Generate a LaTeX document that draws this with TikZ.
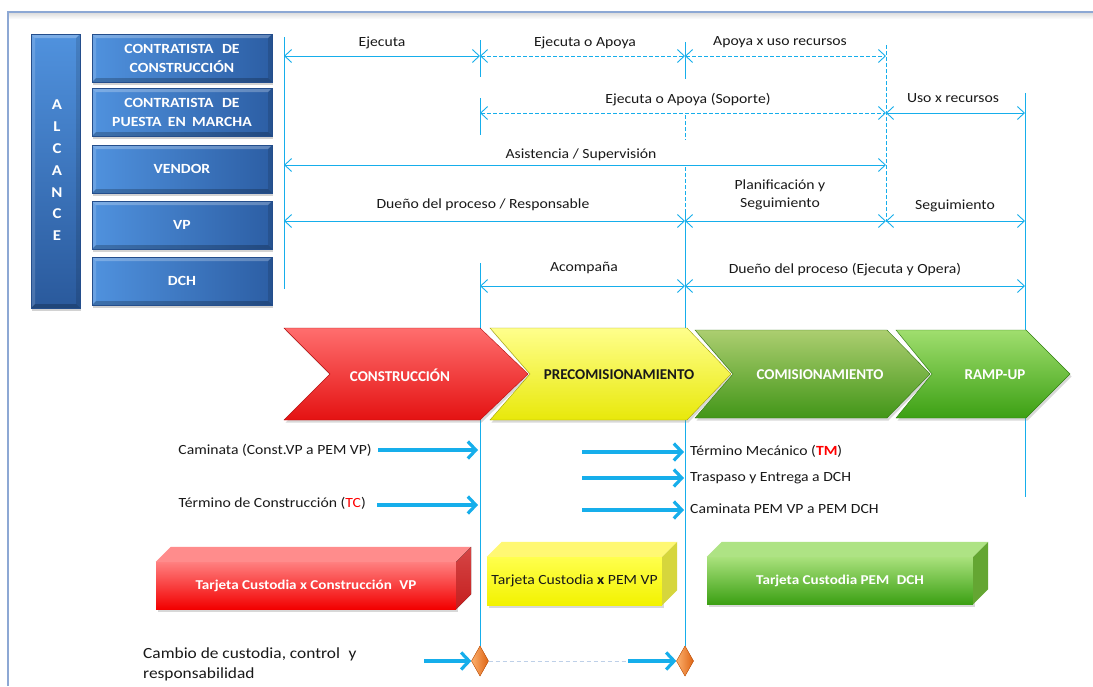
\documentclass[tikz,border=0pt]{standalone}
\usepackage{fontspec}
\setmainfont{Carlito}[FakeStretch=1.12]
\newfontfamily\chevfont{Carlito}
\usetikzlibrary{arrows.meta,shapes.geometric,shadows,calc}
\definecolor{lineblue}{RGB}{22,174,235}
\definecolor{frameblue}{RGB}{141,168,212}
\definecolor{boxL}{RGB}{80,146,222}
\definecolor{boxR}{RGB}{44,94,164}
\definecolor{boxEdge}{RGB}{36,78,140}
\definecolor{txt}{RGB}{25,25,25}
\definecolor{redT}{RGB}{255,110,110}
\definecolor{redM}{RGB}{250,50,50}
\definecolor{redB}{RGB}{228,18,18}
\definecolor{yelT}{RGB}{255,255,140}
\definecolor{yelM}{RGB}{250,250,60}
\definecolor{yelB}{RGB}{232,232,10}
\definecolor{grnAT}{RGB}{172,206,112}
\definecolor{grnAM}{RGB}{110,176,50}
\definecolor{grnAB}{RGB}{66,150,24}
\definecolor{grnBT}{RGB}{160,222,110}
\definecolor{grnBM}{RGB}{100,190,50}
\definecolor{grnBB}{RGB}{60,160,20}
\definecolor{orgT}{RGB}{252,176,110}
\definecolor{orgB}{RGB}{222,100,20}
\definecolor{dashgray}{RGB}{190,208,232}
\definecolor{redSideT}{RGB}{214,70,70}
\definecolor{redSideB}{RGB}{196,30,30}
\definecolor{yelSide}{RGB}{214,214,60}
\definecolor{grnSide}{RGB}{100,166,50}
\tikzset{
  bevel/.style={path picture={
    \fill[white,opacity=0.25] (path picture bounding box.north west) -- (path picture bounding box.north east)
      -- ([xshift=-#1,yshift=-#1]path picture bounding box.north east) -- ([xshift=#1,yshift=-#1]path picture bounding box.north west) -- cycle;
    \fill[white,opacity=0.15] (path picture bounding box.north west) -- ([xshift=#1,yshift=-#1]path picture bounding box.north west)
      -- ([xshift=#1,yshift=#1]path picture bounding box.south west) -- (path picture bounding box.south west) -- cycle;
    \fill[black,opacity=0.22] (path picture bounding box.south west) -- (path picture bounding box.south east)
      -- ([xshift=-#1,yshift=#1]path picture bounding box.south east) -- ([xshift=#1,yshift=#1]path picture bounding box.south west) -- cycle;
    \fill[black,opacity=0.12] (path picture bounding box.north east) -- ([xshift=-#1,yshift=-#1]path picture bounding box.north east)
      -- ([xshift=-#1,yshift=#1]path picture bounding box.south east) -- (path picture bounding box.south east) -- cycle;
  }},
}
\begin{document}
\begin{tikzpicture}[x=1pt,y=-1pt,
  >={Straight Barb[length=7pt,width=13pt]},
  dim/.style={draw=lineblue,line width=0.9pt,<->},
  ddim/.style={dim,dash pattern=on 3.5pt off 2.5pt},
  vline/.style={draw=lineblue,line width=0.9pt},
  dvline/.style={vline,dash pattern=on 3.5pt off 2.5pt},
  lab/.style={text=txt,inner sep=0pt,font=\fontsize{14}{18}\selectfont,align=center},
  role/.style={minimum width=180pt,minimum height=48pt,inner sep=0pt,left color=boxL,right color=boxR,
    draw=boxEdge,line width=0.4pt,text=white,font=\bfseries\fontsize{14}{19}\selectfont,align=center,
    bevel=4pt,drop shadow={opacity=0.35,shadow xshift=1pt,shadow yshift=-2.5pt}},
  chev/.style={line width=0.4pt,drop shadow={opacity=0.3,shadow xshift=1.5pt,shadow yshift=-2.5pt}},
  chevtxt/.style={font=\chevfont\bfseries\fontsize{15}{18}\selectfont,inner sep=0pt},
  fat/.style={draw=lineblue,line width=3.2pt,-{Straight Barb[length=8pt,width=17pt]}},
  blab/.style={lab,anchor=west},
  card/.style={inner sep=0pt,font=\bfseries\fontsize{13.5}{16}\selectfont,
    drop shadow={opacity=0.3,shadow xshift=1.5pt,shadow yshift=-2.5pt}},
  dia/.style={diamond,minimum width=17pt,minimum height=30pt,inner sep=0pt,left color=orgT,right color=orgB,
    draw=orgB!85!black,line width=0.3pt},
]
\useasboundingbox (0,0) rectangle (1093,686);
\fill[white] (0,0) rectangle (1093,686);
% frame
\fill[top color=black!14,bottom color=white] (9,12.5) rectangle (1093,19);
\draw[frameblue,line width=1.3pt] (8,686) -- (8,12) -- (1093,12);

% left column
\node[role,minimum width=49pt,minimum height=274pt,top color=boxL,bottom color=boxR!95!black] (alc) at (55.5,171) {};
\node[text=white,font=\bfseries\fontsize{15}{21.8}\selectfont,align=center,inner sep=0pt] (alctxt) at (57,170.5) {A\\L\\C\\A\\N\\C\\E};

\node[role] (rcc) at (182,58) {CONTRATISTA\hspace{0.35em} DE\\CONSTRUCCIÓN};
\node[role] (rpm) at (182,112) {CONTRATISTA\hspace{0.35em} DE\\PUESTA\hspace{0.2em} EN\hspace{0.2em} MARCHA};
\node[role] (rvd) at (182,169) {VENDOR};
\node[role] (rvp) at (182,225) {VP};
\node[role] (rdc) at (182,281) {DCH};

% diamonds (for anchors)
\node[dia] (d1) at (480,661) {};
\node[dia] (d2) at (685,661) {};

% vertical lines
\coordinate (v0a) at (284,37);  \coordinate (v0b) at (284,289);
\draw[vline] (v0a) -- (v0b);
\coordinate (v1a) at (480,40);  \coordinate (v1b) at (480,77);
\coordinate (v1c) at (480,98);  \coordinate (v1d) at (480,135);
\coordinate (v1e) at (480,263);
\draw[vline] (v1a) -- (v1b);
\draw[vline] (v1c) -- (v1d);
\draw[vline] (v1e) -- (d1.north);
\coordinate (v2a) at (685,42);  \coordinate (v2b) at (685,79);
\coordinate (v2c) at (685,115); \coordinate (v2d) at (685,140);
\coordinate (v2e) at (685,167); \coordinate (v2f) at (685,212);
\draw[vline] (v2a) -- (v2b);
\draw[dvline] (v2c) -- (v2d);
\draw[dvline] (v2e) -- (v2f);
\draw[vline] (v2f) -- (d2.north);
\coordinate (v3a) at (886,45);  \coordinate (v3b) at (886,222);
\draw[dvline] (v3a) -- (v3b);
\coordinate (v4a) at (1025,93); \coordinate (v4b) at (1025,497);
\draw[vline] (v4a) -- (v4b);

% row 1
\coordinate (A1) at (284,56); \coordinate (B1) at (480,56); \coordinate (C1) at (685,56); \coordinate (D1) at (886,56);
\draw[dim] (A1) -- (B1);
\draw[ddim] (B1) -- (C1);
\draw[ddim] (C1) -- (D1);
\node[lab] (l11) at (382,43) {Ejecuta};
\node[lab] (l12) at (585,43) {Ejecuta o Apoya};
\node[lab] (l13) at (780,42) {Apoya x uso recursos};
% row 2
\coordinate (B2) at (480,113); \coordinate (D2) at (886,113); \coordinate (E2) at (1025,113);
\draw[ddim] (B2) -- (D2);
\draw[dim] (D2) -- (E2);
\node[lab] (l21) at (688,100) {Ejecuta o Apoya (Soporte)};
\node[lab] (l22) at (953,98) {Uso x recursos};
% row 3
\coordinate (A3) at (284,165); \coordinate (D3) at (886,165);
\draw[dim] (A3) -- (D3);
\node[lab] (l31) at (581,155) {Asistencia / Supervisión};
% row 4
\coordinate (A4) at (284,221); \coordinate (C4) at (685,221); \coordinate (D4) at (886,221); \coordinate (E4) at (1025,221);
\draw[dim] (A4) -- (C4);
\draw[dim] (C4) -- (D4);
\draw[dim] (D4) -- (E4);
\node[lab] (l41) at (483,205) {Dueño del proceso / Responsable};
\node[lab] (l42) at (780,194.5) {Planificación y\\Seguimiento};
\node[lab] (l43) at (955,206) {Seguimiento};
% row 5
\coordinate (B5) at (480,286); \coordinate (C5) at (685,286); \coordinate (E5) at (1025,286);
\draw[dim] (B5) -- (C5);
\draw[dim] (C5) -- (E5);
\node[lab] (l51) at (584,268) {Acompaña};
\node[lab] (l52) at (845,270) {Dueño del proceso (Ejecuta y Opera)};

% chevrons
\path[chev,draw=redB!80!black,top color=redT,middle color=redM,bottom color=redB]
  (284,328) -- (480,328) -- (528,374) -- (480,420) -- (284,420) -- (330,374) -- cycle;
\path[chev,draw=yelB!70!black,top color=yelT,middle color=yelM,bottom color=yelB]
  (490,328) -- (687,328) -- (731,374) -- (687,420) -- (490,420) -- (530,374) -- cycle;
\path[chev,draw=grnAB!80!black,top color=grnAT,middle color=grnAM,bottom color=grnAB]
  (695,330) -- (887,330) -- (930,374) -- (887,418) -- (695,418) -- (733,374) -- cycle;
\path[chev,draw=grnBB!80!black,top color=grnBT,middle color=grnBM,bottom color=grnBB]
  (896,330) -- (1026,330) -- (1070,374) -- (1026,418) -- (896,418) -- (932,374) -- cycle;
\node[chevtxt,text=white] (c1) at (400,375) {CONSTRUCCIÓN};
\node[chevtxt,text=txt] (c2) at (619,375) {PRECOMISIONAMIENTO};
\node[chevtxt,text=white] (c3) at (820,375) {COMISIONAMIENTO};
\node[chevtxt,text=white] (c4) at (995,375) {RAMP-UP};

% milestone arrows
\node[lab,anchor=east] (m1) at (372,450) {Caminata (Const.VP a PEM VP)};
\coordinate (m1e) at (478,450);
\draw[fat] ([xshift=6pt]m1.east) -- (m1e);
\node[lab,anchor=east] (m2) at (366,503) {Término de Construcción (\textcolor{red}{TC})};
\coordinate (m2s) at (377,505);
\coordinate (m2e) at (478,505);
\draw[fat] (m2s) -- (m2e);
\node[blab] (m3) at (690,451) {Término Mecánico (\textcolor{red}{\textbf{TM}})};
\coordinate (m3s) at (582,452);
\draw[fat] (m3s) -- ([xshift=-6pt]m3.west|-m3s);
\node[blab] (m4) at (690,478) {Traspaso y Entrega a DCH};
\coordinate (m4s) at (582,478);
\draw[fat] (m4s) -- ([xshift=-6pt]m4.west|-m4s);
\node[blab] (m5) at (690,509) {Caminata PEM VP a PEM DCH};
\coordinate (m5s) at (582,510);
\draw[fat] (m5s) -- ([xshift=-6pt]m5.west|-m5s);

% custody cards
\node[card,minimum width=300pt,minimum height=47pt,top color=red!50!white,bottom color=red!95!black,text=white] (k1) at (306,585.5)
  {Tarjeta Custodia x Construcción\hspace{0.3em} VP};
\fill[red!45!white] (k1.north west) -- ++(15,-15) -- ($(k1.north east)+(15,-15)$) -- (k1.north east) -- cycle;
\fill[top color=redSideT,bottom color=redSideB] (k1.north east) -- ++(15,-15) -- ($(k1.south east)+(15,-15)$) -- (k1.south east) -- cycle;

\node[card,font=\fontsize{14}{16}\selectfont,minimum width=175pt,minimum height=48pt,top color=yellow!70!white,bottom color=yellow!95!black,text=txt] (k2) at (574.5,581)
  {Tarjeta Custodia \textbf{x} PEM VP};
\fill[yellow!55!white] (k2.north west) -- ++(15,-15) -- ($(k2.north east)+(15,-15)$) -- (k2.north east) -- cycle;
\fill[yelSide] (k2.north east) -- ++(15,-15) -- ($(k2.south east)+(15,-15)$) -- (k2.south east) -- cycle;

\node[card,minimum width=266pt,minimum height=47pt,top color=grnBT!90!white,bottom color=grnBB,text=white] (k3) at (840,580.5)
  {Tarjeta Custodia PEM\hspace{0.3em} DCH};
\fill[grnBT!85!white] (k3.north west) -- ++(15,-15) -- ($(k3.north east)+(15,-15)$) -- (k3.north east) -- cycle;
\fill[grnSide] (k3.north east) -- ++(15,-15) -- ($(k3.south east)+(15,-15)$) -- (k3.south east) -- cycle;

% custody change
\node[lab,anchor=west,align=left,font=\fontsize{15.5}{20}\selectfont] (cc) at (143,664)
  {Cambio de custodia, control\hspace{0.3em} y\\responsabilidad};
\coordinate (s1) at (424,661);
\draw[fat] (s1) -- (d1.west);
\coordinate (s2) at (628,661);
\draw[dashgray,line width=0.8pt,dash pattern=on 4pt off 3pt] (d1.east) -- (s2);
\draw[fat] (s2) -- (d2.west);
\node[dia] at (d1) {};
\node[dia] at (d2) {};
\end{tikzpicture}
\end{document}
